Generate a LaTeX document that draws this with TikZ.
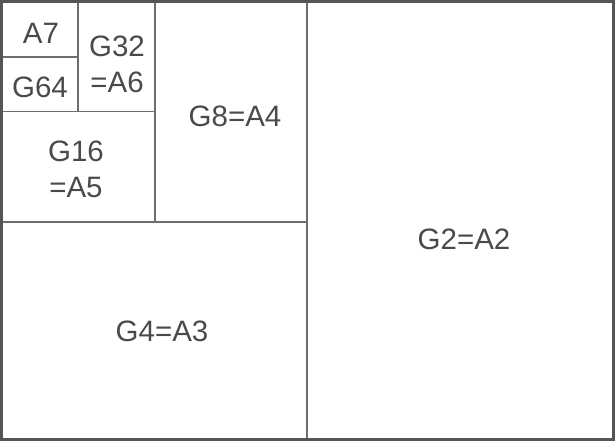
\documentclass[tikz,border=0pt]{standalone}
\usepackage{fontspec}
\setmainfont{Liberation Sans}
\usetikzlibrary{calc}
\definecolor{frame}{HTML}{555555}
\definecolor{rule}{HTML}{6E6E6E}
\definecolor{ink}{HTML}{4A4A4A}
\tikzset{
  border/.style={draw=frame, line width=3pt},
  cut/.style={draw=rule, line width=1.4pt},
  lab/.style={text=ink, font=\fontsize{29.5}{36}\selectfont, align=center, inner sep=0pt},
}

\begin{document}
\begin{tikzpicture}[x=1pt, y=-1pt]
  \useasboundingbox (0,0) rectangle (616,442);

  % corners of the sheet
  \coordinate (TL) at (1.5,1.5);
  \coordinate (BR) at (613.5,439.5);

  % successive halvings
  \draw[cut] (307,1.5) -- (307,439.5);
  \draw[cut] (1.5,222) -- (307,222);
  \draw[cut] (155,1.5) -- (155,222);
  \draw[cut] (1.5,111.5) -- (155,111.5);
  \draw[cut] (78,1.5) -- (78,111.5);
  \draw[cut] (1.5,57) -- (78,57);

  % outer frame
  \draw[border] (TL) rectangle (BR);

  % labels
  \node[lab] (a7)  at (41,33)   {A7};
  \node[lab] (g64) at (40,87)   {G64};
  \node[lab] (g32) at (117,64.5) {G32\\=A6};
  \node[lab] (g16) at (76,169.5) {G16\\=A5};
  \node[lab] (g8)  at (235,116) {G8=A4};
  \node[lab] (g4)  at (162,331) {G4=A3};
  \node[lab] (g2)  at (464,239) {G2=A2};
\end{tikzpicture}
\end{document}
